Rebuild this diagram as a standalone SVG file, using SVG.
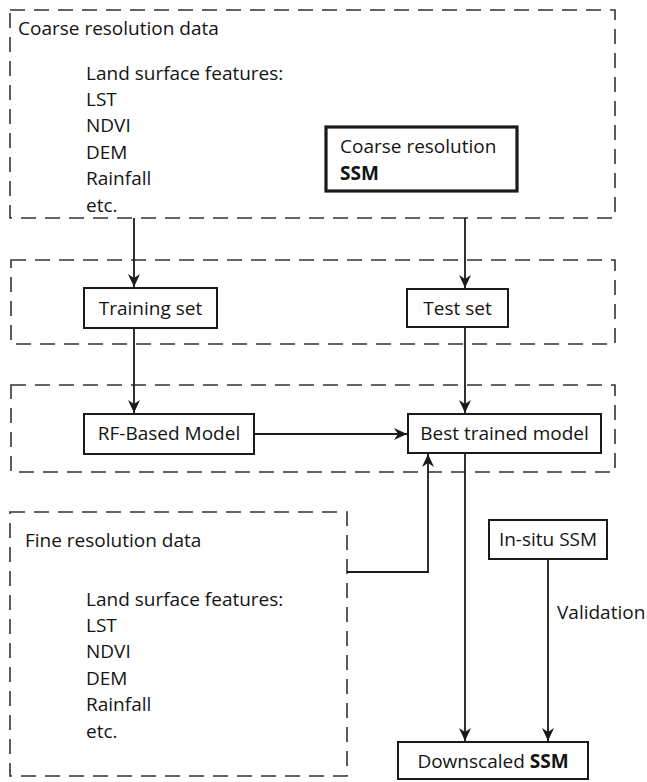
<svg xmlns="http://www.w3.org/2000/svg" width="647" height="782" viewBox="0 0 647 782">
  <style>
    text { font-family: "Open Sans", "Liberation Sans", sans-serif; font-size: 19px; fill: #141414; }
    .b { font-weight: bold; }
    .frame { fill: none; stroke: #333; stroke-width: 1.6; stroke-dasharray: 15 9; }
    .box { fill: #fff; stroke: #1a1a1a; stroke-width: 2; }
    .thick { fill: #fff; stroke: #1a1a1a; stroke-width: 3.2; }
    .edge { fill: none; stroke: #1a1a1a; stroke-width: 1.8; }
  </style>
  <defs>
    <!-- filled arrowhead with a slight notch at the back -->
    <marker id="arrow" viewBox="0 0 13 12" refX="13" refY="6" markerWidth="13" markerHeight="12" markerUnits="userSpaceOnUse" orient="auto">
      <path d="M0,0 L13,6 L0,12 L4,6 Z" fill="#1a1a1a"/>
    </marker>
  </defs>
  <rect width="647" height="782" fill="#fff"/>

  <!-- dashed grouping frames -->
  <g id="frame-coarse">
    <rect class="frame" x="10" y="10" width="605" height="208"/>
    <text x="18" y="35">Coarse resolution data</text>
    <text x="86" y="80">Land surface features:</text>
    <text x="86" y="106">LST</text>
    <text x="86" y="132">NDVI</text>
    <text x="86" y="159">DEM</text>
    <text x="86" y="185">Rainfall</text>
    <text x="86" y="212">etc.</text>
  </g>
  <g id="frame-sets">
    <rect class="frame" x="11" y="260" width="604" height="84"/>
  </g>
  <g id="frame-model">
    <rect class="frame" x="11" y="385" width="604" height="87"/>
  </g>
  <g id="frame-fine">
    <rect class="frame" x="10" y="512" width="337" height="264"/>
    <text x="25" y="547">Fine resolution data</text>
    <text x="86" y="606">Land surface features:</text>
    <text x="86" y="632">LST</text>
    <text x="86" y="658">NDVI</text>
    <text x="86" y="685">DEM</text>
    <text x="86" y="711">Rainfall</text>
    <text x="86" y="738">etc.</text>
  </g>

  <!-- connectors -->
  <g id="connectors">
    <path class="edge" d="M134,218 V287" marker-end="url(#arrow)"/>
    <path class="edge" d="M465,218 V288" marker-end="url(#arrow)"/>
    <path class="edge" d="M134,328 V413" marker-end="url(#arrow)"/>
    <path class="edge" d="M465,327 V413" marker-end="url(#arrow)"/>
    <path class="edge" d="M254,434 H407" marker-end="url(#arrow)"/>
    <path class="edge" d="M347,572 H428 V454" marker-end="url(#arrow)"/>
    <path class="edge" d="M465,453 V741" marker-end="url(#arrow)"/>
    <path class="edge" d="M548,559 V741" marker-end="url(#arrow)"/>
    <text x="557" y="619">Validation</text>
  </g>

  <!-- nodes -->
  <g id="coarse-ssm">
    <rect class="thick" x="326" y="127" width="191" height="64"/>
    <text x="340" y="153">Coarse resolution</text>
    <text class="b" x="340" y="180">SSM</text>
  </g>
  <g id="training-set">
    <rect class="box" x="84" y="288" width="133" height="40"/>
    <text x="150.5" y="315" text-anchor="middle">Training set</text>
  </g>
  <g id="test-set">
    <rect class="box" x="407" y="289" width="101" height="38"/>
    <text x="457.5" y="315" text-anchor="middle">Test set</text>
  </g>
  <g id="rf-model">
    <rect class="box" x="84" y="414" width="170" height="40"/>
    <text x="169" y="440" text-anchor="middle">RF-Based Model</text>
  </g>
  <g id="best-model">
    <rect class="box" x="408" y="414" width="193" height="39"/>
    <text x="504.5" y="440" text-anchor="middle">Best trained model</text>
  </g>
  <g id="insitu-ssm">
    <rect class="box" x="489" y="520" width="118" height="39"/>
    <text x="548" y="546" text-anchor="middle">In-situ SSM</text>
  </g>
  <g id="downscaled-ssm">
    <rect class="box" x="398" y="742" width="190" height="37"/>
    <text x="493" y="768" text-anchor="middle">Downscaled <tspan class="b">SSM</tspan></text>
  </g>
</svg>
